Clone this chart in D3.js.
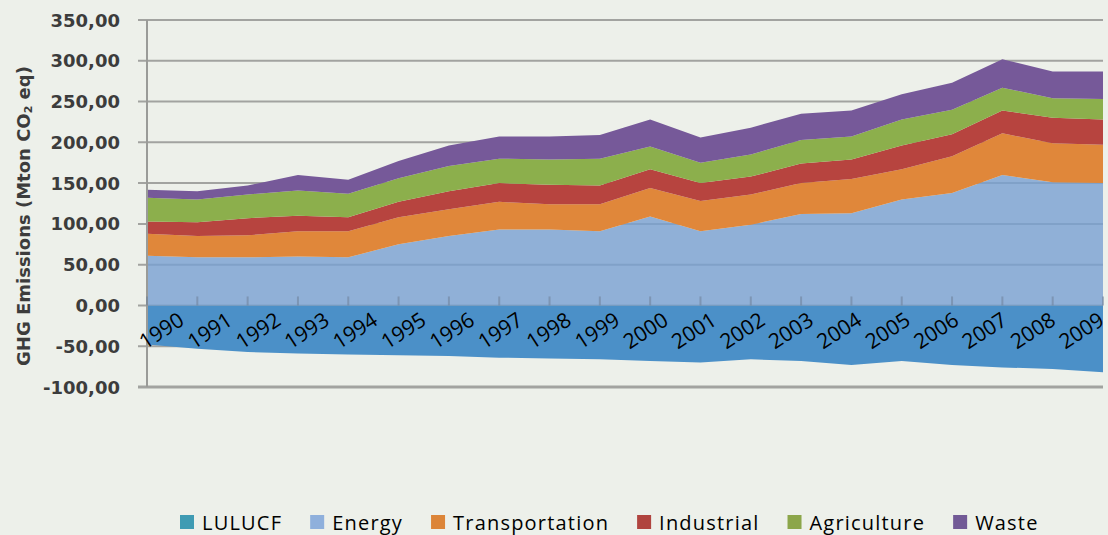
<!DOCTYPE html>
<html>
<head>
<meta charset="utf-8">
<script src="https://cdn.jsdelivr.net/npm/d3@7"></script>
<style>
    html, body { margin: 0; padding: 0; background: #edf0ea; }
    svg { display: block; }
</style>
</head>
<body>
<svg id="chart" width="1108" height="535"></svg>
<script>
// data (Mton CO2 eq)
var years = [1990, 1991, 1992, 1993, 1994, 1995, 1996, 1997, 1998, 1999,
             2000, 2001, 2002, 2003, 2004, 2005, 2006, 2007, 2008, 2009];
var lulucf = [-48, -53, -57, -59, -60, -61, -62, -64, -65, -66,
              -68, -70, -66, -68, -73, -68, -73, -76, -78, -82];
var energy = [61, 59, 59, 60, 59, 75, 85, 93, 93, 91,
              109, 91, 99, 112, 113, 130, 138, 160, 151, 150];
var transportation = [27, 26, 27, 31, 32, 33, 33, 34, 31, 33,
                      35, 37, 37, 38, 42, 37, 45, 51, 48, 47];
var industrial = [15, 17, 21, 19, 17, 19, 22, 23, 24, 23,
                  23, 22, 22, 24, 24, 29, 27, 28, 31, 31];
var agriculture = [29, 28, 29, 31, 29, 29, 31, 30, 31, 33,
                   28, 25, 27, 29, 28, 32, 30, 28, 24, 25];
var waste = [10, 10, 11, 19, 17, 21, 25, 27, 28, 29,
             33, 31, 33, 32, 32, 31, 33, 35, 33, 34];
var seriesNames = ['LULUCF', 'Energy', 'Transportation', 'Industrial', 'Agriculture', 'Waste'];
var yTicks = [-100, -50, 0, 50, 100, 150, 200, 250, 300, 350];

var areaColors = {
    'LULUCF': '#4b90c8',
    'Energy': '#78a0d2',
    'Transportation': '#e0873a',
    'Industrial': '#b7443f',
    'Agriculture': '#8caf4c',
    'Waste': '#765999'
};
var legendColors = {
    'LULUCF': '#3f9bb3',
    'Energy': '#8fb0dc',
    'Transportation': '#dc8538',
    'Industrial': '#b0443f',
    'Agriculture': '#8ca64a',
    'Waste': '#725a96'
};

var seriesValues = {
    'LULUCF': lulucf,
    'Energy': energy,
    'Transportation': transportation,
    'Industrial': industrial,
    'Agriculture': agriculture,
    'Waste': waste
};

// rows for d3.stack
var rows = years.map(function (year, i) {
    var row = {year: year};
    seriesNames.forEach(function (name) {
        row[name] = seriesValues[name][i];
    });
    return row;
});

var svg = d3.select('#chart');
var plot = {left: 147, right: 1103, top: 20, bottom: 387};

var x = d3.scalePoint().domain(years).range([plot.left, plot.right]);
// the rotated year labels sit a bit tighter than the data points
var xLabel = d3.scalePoint().domain(years).range([161, 1081]);
var y = d3.scaleLinear().domain([-100, 350]).range([plot.bottom, plot.top]);

svg.append('rect')
    .attr('width', 1108).attr('height', 535)
    .attr('fill', '#edf0ea');

// gridlines first, energy is a bit see-through so they show in it
svg.append('g').selectAll('line')
    .data(yTicks)
    .join('line')
    .attr('x1', plot.left - 9)
    .attr('x2', plot.right)
    .attr('y1', function (d) { return y(d); })
    .attr('y2', function (d) { return y(d); })
    .attr('stroke', '#a2a3a0')
    .attr('stroke-width', function (d) { return d === -100 ? 3 : 2; });

var stack = d3.stack()
    .keys(seriesNames)
    .offset(d3.stackOffsetDiverging);
var layers = stack(rows);

var area = d3.area()
    .x(function (d) { return x(d.data.year); })
    .y0(function (d) { return y(d[0]); })
    .y1(function (d) { return y(d[1]); });

svg.append('g').selectAll('path')
    .data(layers)
    .join('path')
    .attr('d', area)
    .attr('fill', function (d) { return areaColors[d.key]; })
    .attr('fill-opacity', function (d) { return d.key === 'Energy' ? 0.8 : 1; });

// left axis line
svg.append('line')
    .attr('x1', plot.left).attr('x2', plot.left)
    .attr('y1', plot.top).attr('y2', plot.bottom)
    .attr('stroke', '#9a9b98')
    .attr('stroke-width', 2);

// category ticks on the zero line
svg.append('g').selectAll('line')
    .data(years)
    .join('line')
    .attr('x1', function (d) { return x(d); })
    .attr('x2', function (d) { return x(d); })
    .attr('y1', y(0) - 9)
    .attr('y2', y(0))
    .attr('stroke', '#6d7f98')
    .attr('stroke-opacity', 0.55)
    .attr('stroke-width', 2);

// y tick labels, comma decimals and a plain hyphen like the original
var fmt = d3.format('.2f');
svg.append('g').selectAll('text')
    .data(yTicks)
    .join('text')
    .attr('x', 120)
    .attr('y', function (d) { return y(d); })
    .attr('text-anchor', 'end')
    .attr('dominant-baseline', 'central')
    .attr('font-family', 'DejaVu Sans')
    .attr('font-weight', 'bold')
    .attr('font-size', 18)
    .attr('fill', '#3c3c3c')
    .text(function (d) { return fmt(d).replace('.', ',').replace('\u2212', '-'); });

// y axis title
var title = svg.append('text')
    .attr('transform', 'translate(23,216) rotate(-90)')
    .attr('text-anchor', 'middle')
    .attr('dominant-baseline', 'central')
    .attr('font-family', 'DejaVu Sans')
    .attr('font-weight', 'bold')
    .attr('font-size', 18)
    .attr('fill', '#3c3c3c');
title.append('tspan').text('GHG Emissions (Mton CO');
title.append('tspan').attr('font-size', 11).attr('dy', 5).text('2');
title.append('tspan').attr('dy', -5).text(' eq)');

// year labels
svg.append('g').selectAll('text')
    .data(years)
    .join('text')
    .attr('transform', function (d) {
        return 'translate(' + xLabel(d) + ',330) rotate(-33)';
    })
    .attr('text-anchor', 'middle')
    .attr('dominant-baseline', 'central')
    .attr('font-family', 'Open Sans')
    .attr('font-size', 21)
    .attr('fill', '#000')
    .text(function (d) { return d; });

// legend
var legend = svg.append('g');
var lx = 180;
seriesNames.forEach(function (name) {
    legend.append('rect')
        .attr('x', lx).attr('y', 515)
        .attr('width', 14).attr('height', 14)
        .attr('fill', legendColors[name]);
    var t = legend.append('text')
        .attr('x', lx + 22)
        .attr('y', 530)
        .attr('font-family', 'Open Sans')
        .attr('font-size', 20)
        .attr('letter-spacing', 1.2)
        .attr('fill', '#000')
        .text(name);
    lx += 22 + t.node().getComputedTextLength() + 28;
});
</script>
</body>
</html>
